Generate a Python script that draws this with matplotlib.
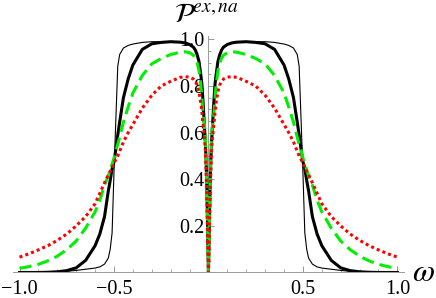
import numpy as np
import matplotlib.pyplot as plt
from matplotlib.ticker import MultipleLocator, FixedLocator

plt.rcParams['font.family'] = ['Liberation Serif', 'DejaVu Serif']
plt.rcParams['mathtext.fontset'] = 'stix'

# omega >= 0 only, the curves are mirrored for omega < 0
omega = [0, 0.004, 0.008, 0.012, 0.016, 0.02, 0.025, 0.03, 0.035, 0.04,
         0.05, 0.06, 0.07, 0.08, 0.1, 0.125, 0.15, 0.2, 0.25, 0.3,
         0.35, 0.4, 0.425, 0.45, 0.47, 0.48, 0.49, 0.5, 0.51, 0.52,
         0.53, 0.55, 0.575, 0.6, 0.65, 0.7, 0.75, 0.8, 0.85, 0.9,
         0.95, 1.0]

p_thin = [0, 0.18, 0.35, 0.47, 0.55, 0.61, 0.68, 0.75, 0.81, 0.845,
          0.905, 0.935, 0.955, 0.967, 0.98, 0.986, 0.989, 0.99, 0.99, 0.99,
          0.987, 0.98, 0.974, 0.963, 0.935, 0.885, 0.66, 0.43, 0.17, 0.10,
          0.062, 0.036, 0.024, 0.019, 0.014, 0.009, 0.005, 0.003, 0.001, 0,
          0, 0]

p_thick = [0, 0.18, 0.35, 0.47, 0.55, 0.61, 0.68, 0.75, 0.81, 0.845,
           0.905, 0.935, 0.955, 0.967, 0.978, 0.985, 0.988, 0.99, 0.987, 0.981,
           0.957, 0.89, 0.83, 0.75, 0.645, 0.59, 0.53, 0.475, 0.445, 0.395,
           0.35, 0.24, 0.165, 0.115, 0.052, 0.02, 0.008, 0.003, 0.001, 0,
           0, 0]

p_green = [0, 0.17, 0.33, 0.48, 0.575, 0.62, 0.655, 0.69, 0.75, 0.80,
           0.865, 0.90, 0.92, 0.932, 0.943, 0.947, 0.945, 0.935, 0.918, 0.895,
           0.845, 0.77, 0.71, 0.645, 0.58, 0.55, 0.525, 0.49, 0.465, 0.44,
           0.415, 0.375, 0.31, 0.26, 0.19, 0.135, 0.098, 0.07, 0.05, 0.035,
           0.025, 0.018]

p_red = [0, 0.15, 0.29, 0.42, 0.52, 0.57, 0.61, 0.645, 0.69, 0.725,
         0.775, 0.805, 0.82, 0.83, 0.838, 0.84, 0.837, 0.82, 0.80, 0.76,
         0.705, 0.635, 0.60, 0.56, 0.52, 0.50, 0.485, 0.47, 0.45, 0.435,
         0.42, 0.385, 0.34, 0.295, 0.24, 0.20, 0.165, 0.138, 0.115, 0.097,
         0.08, 0.066]

def mirror(v, sign=1):
    v = np.array(v)
    return np.concatenate([sign * v[::-1], v[1:]])

w = mirror(omega, -1)

fig = plt.figure(figsize=(4.36, 2.98), dpi=100)
ax = fig.add_axes([0.0296, 0.0856, 0.897, 0.794])

ax.plot(w, mirror(p_thin), color='black', lw=0.8, zorder=3)
ax.plot(w, mirror(p_thick), color='black', lw=2.2, zorder=3)
ax.plot(w, mirror(p_green), color='#00ee00', lw=2.2, ls=(0, (4, 2)), zorder=3)
ax.plot(w, mirror(p_red), color='red', lw=2.2, ls=(0, (1, 1)), zorder=3)

ax.set_xlim(-1.035, 1.035)
ax.set_ylim(0, 1.015)

for s in ['top', 'right']:
    ax.spines[s].set_visible(False)
ax.spines['left'].set_position(('data', 0))
ax.spines['bottom'].set_position(('data', 0))
for s in ['left', 'bottom']:
    ax.spines[s].set_color('0.6')
    ax.spines[s].set_linewidth(0.7)

ax.xaxis.set_major_locator(FixedLocator([-1.0, -0.5, 0.5, 1.0]))
ax.xaxis.set_minor_locator(MultipleLocator(0.1))
ax.yaxis.set_major_locator(FixedLocator([0.2, 0.4, 0.6, 0.8, 1.0]))
ax.yaxis.set_minor_locator(MultipleLocator(0.05))
ax.xaxis.set_major_formatter(plt.FuncFormatter(lambda v, p: ('%.1f' % v).replace('-', '\u2212')))
ax.yaxis.set_major_formatter(plt.FuncFormatter(lambda v, p: '%.1f' % v))

ax.tick_params(which='both', direction='in', colors='0.6', labelcolor='black', labelsize=14.5)
ax.tick_params(which='major', length=4, width=0.7)
ax.tick_params(which='minor', length=2.5, width=0.6)
ax.tick_params(axis='x', pad=5.5)
ax.tick_params(axis='y', pad=3)

fig.text(0.945, 0.057, r'$\omega$', fontsize=23, ha='left', va='baseline')
fig.text(0.398, 0.925, r'$\mathcal{P}^{ex,na}$', fontsize=20, ha='left', va='baseline')

fig.savefig('out.png', dpi=100)
